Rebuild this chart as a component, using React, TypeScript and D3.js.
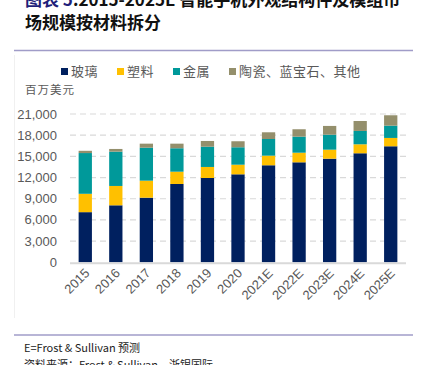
import React, { useEffect, useRef } from 'react';
import * as d3 from 'd3';

const years = ['2015', '2016', '2017', '2018', '2019', '2020', '2021E', '2022E', '2023E', '2024E', '2025E'];
const glass = [7100, 8070, 9150, 11090, 11940, 12460, 13740, 14160, 14670, 15440, 16430];
const plastic = [2600, 2740, 2410, 1740, 1560, 1360, 1360, 1360, 1280, 1270, 1180];
const metal = [5770, 4860, 4670, 3320, 2870, 2470, 2360, 2270, 2120, 1890, 1740];
const other = [320, 380, 570, 650, 810, 850, 950, 1050, 1240, 1410, 1470];
const seriesNames = ['玻璃', '塑料', '金属', '陶瓷、蓝宝石、其他'];
const yTicks = [0, 3000, 6000, 9000, 12000, 15000, 18000, 21000];

const colors = ['#00205f', '#ffc000', '#00999a', '#948f6c'];

const W = 427;
const H = 365;

const App = () => {
  const ref = useRef<SVGSVGElement>(null);

  useEffect(() => {
    const svg = d3.select(ref.current);
    svg.selectAll('*').remove();

    const cjk = '"Noto Sans CJK SC", "Noto Sans", sans-serif';
    const num = '"Liberation Sans", "Open Sans", sans-serif';

    // title
    const t1 = svg.append('text').attr('x', 25).attr('y', 6)
      .style('font-family', cjk).style('font-size', '17px').style('font-weight', 'bold');
    t1.append('tspan').attr('fill', '#1f1f7a').text('图表 5');
    t1.append('tspan').attr('fill', '#111').text(':2015-2025E 智能手机外观结构件及模组市');
    svg.append('text').attr('x', 25).attr('y', 29)
      .style('font-family', cjk).style('font-size', '17px').style('font-weight', 'bold')
      .attr('fill', '#111').text('场规模按材料拆分');

    svg.append('line').attr('x1', 14).attr('x2', 413).attr('y1', 50.5).attr('y2', 50.5)
      .attr('stroke', '#a09cc8').attr('stroke-width', 1.5);
    svg.append('line').attr('x1', 14).attr('x2', 413).attr('y1', 335).attr('y2', 335)
      .attr('stroke', '#a09cc8').attr('stroke-width', 1.5);
    svg.append('line').attr('x1', 14.5).attr('x2', 14.5).attr('y1', 55).attr('y2', 318)
      .attr('stroke', '#f0f0f0').attr('stroke-width', 1);

    // legend
    const legendX = [61, 117, 173, 229];
    seriesNames.forEach((name, i) => {
      svg.append('rect').attr('x', legendX[i]).attr('y', 68).attr('width', 7).attr('height', 7)
        .attr('fill', colors[i]);
      svg.append('text').attr('x', legendX[i] + 10).attr('y', 76)
        .style('font-family', cjk).style('font-size', '13px').style('letter-spacing', '0.5px')
        .attr('fill', '#595959').text(name);
    });
    svg.append('text').attr('x', 25).attr('y', 94)
      .style('font-family', cjk).style('font-size', '11.5px').style('letter-spacing', '1px')
      .attr('fill', '#595959').text('百万美元');

    const x = d3.scaleBand<string>().domain(years).range([70, 406])
      .paddingInner(0.565).paddingOuter(0.2825);
    const y = d3.scaleLinear().domain([0, 21000]).range([262.3, 114]);

    // grid
    svg.append('g').selectAll('line').data(yTicks.filter((d) => d > 0)).enter()
      .append('line')
      .attr('x1', 70).attr('x2', 406)
      .attr('y1', (d) => y(d)).attr('y2', (d) => y(d))
      .attr('stroke', '#d9d9d9').attr('stroke-width', 1.2).attr('stroke-dasharray', '6,4');

    svg.append('g').selectAll('text').data(yTicks).enter()
      .append('text')
      .attr('x', 57).attr('y', (d) => y(d)).attr('dy', '0.35em')
      .attr('text-anchor', 'end')
      .style('font-family', num).style('font-size', '13px')
      .attr('fill', '#595959')
      .text((d) => d3.format(',')(d));

    // bars
    const table = years.map((yr, i) => ({
      year: yr, glass: glass[i], plastic: plastic[i], metal: metal[i], other: other[i],
    }));
    const keys = ['glass', 'plastic', 'metal', 'other'];
    const stack = d3.stack<any>().keys(keys)(table);

    stack.forEach((layer, li) => {
      svg.append('g').selectAll('rect').data(layer).enter()
        .append('rect')
        .attr('x', (d) => x(d.data.year)!)
        .attr('width', x.bandwidth())
        .attr('y', (d) => y(d[1]))
        .attr('height', (d) => y(d[0]) - y(d[1]))
        .attr('fill', colors[li]);
    });

    // baseline
    svg.append('line').attr('x1', 70).attr('x2', 406).attr('y1', 263.3).attr('y2', 263.3)
      .attr('stroke', '#d9d9d9').attr('stroke-width', 2);

    // x labels
    svg.append('g').selectAll('text').data(years).enter()
      .append('text')
      .attr('text-anchor', 'end')
      .attr('transform', (d) => `translate(${x(d)! + x.bandwidth() / 2 + 5}, 274) rotate(-45)`)
      .style('font-family', num).style('font-size', '13px')
      .attr('fill', '#595959')
      .text((d) => d);

    // footnote
    svg.append('text').attr('x', 24).attr('y', 352)
      .style('font-family', cjk).style('font-size', '11px').attr('fill', '#222')
      .text('E=Frost & Sullivan 预测');
    svg.append('text').attr('x', 24).attr('y', 369)
      .style('font-family', cjk).style('font-size', '11px').attr('fill', '#222')
      .text('资料来源：Frost & Sullivan，浙银国际');
  }, []);

  return (
    <div style={{ position: 'absolute', left: 0, top: 0 }}>
      <svg ref={ref} width={W} height={H} style={{ display: 'block', background: '#fff' }} />
    </div>
  );
};

export default App;
